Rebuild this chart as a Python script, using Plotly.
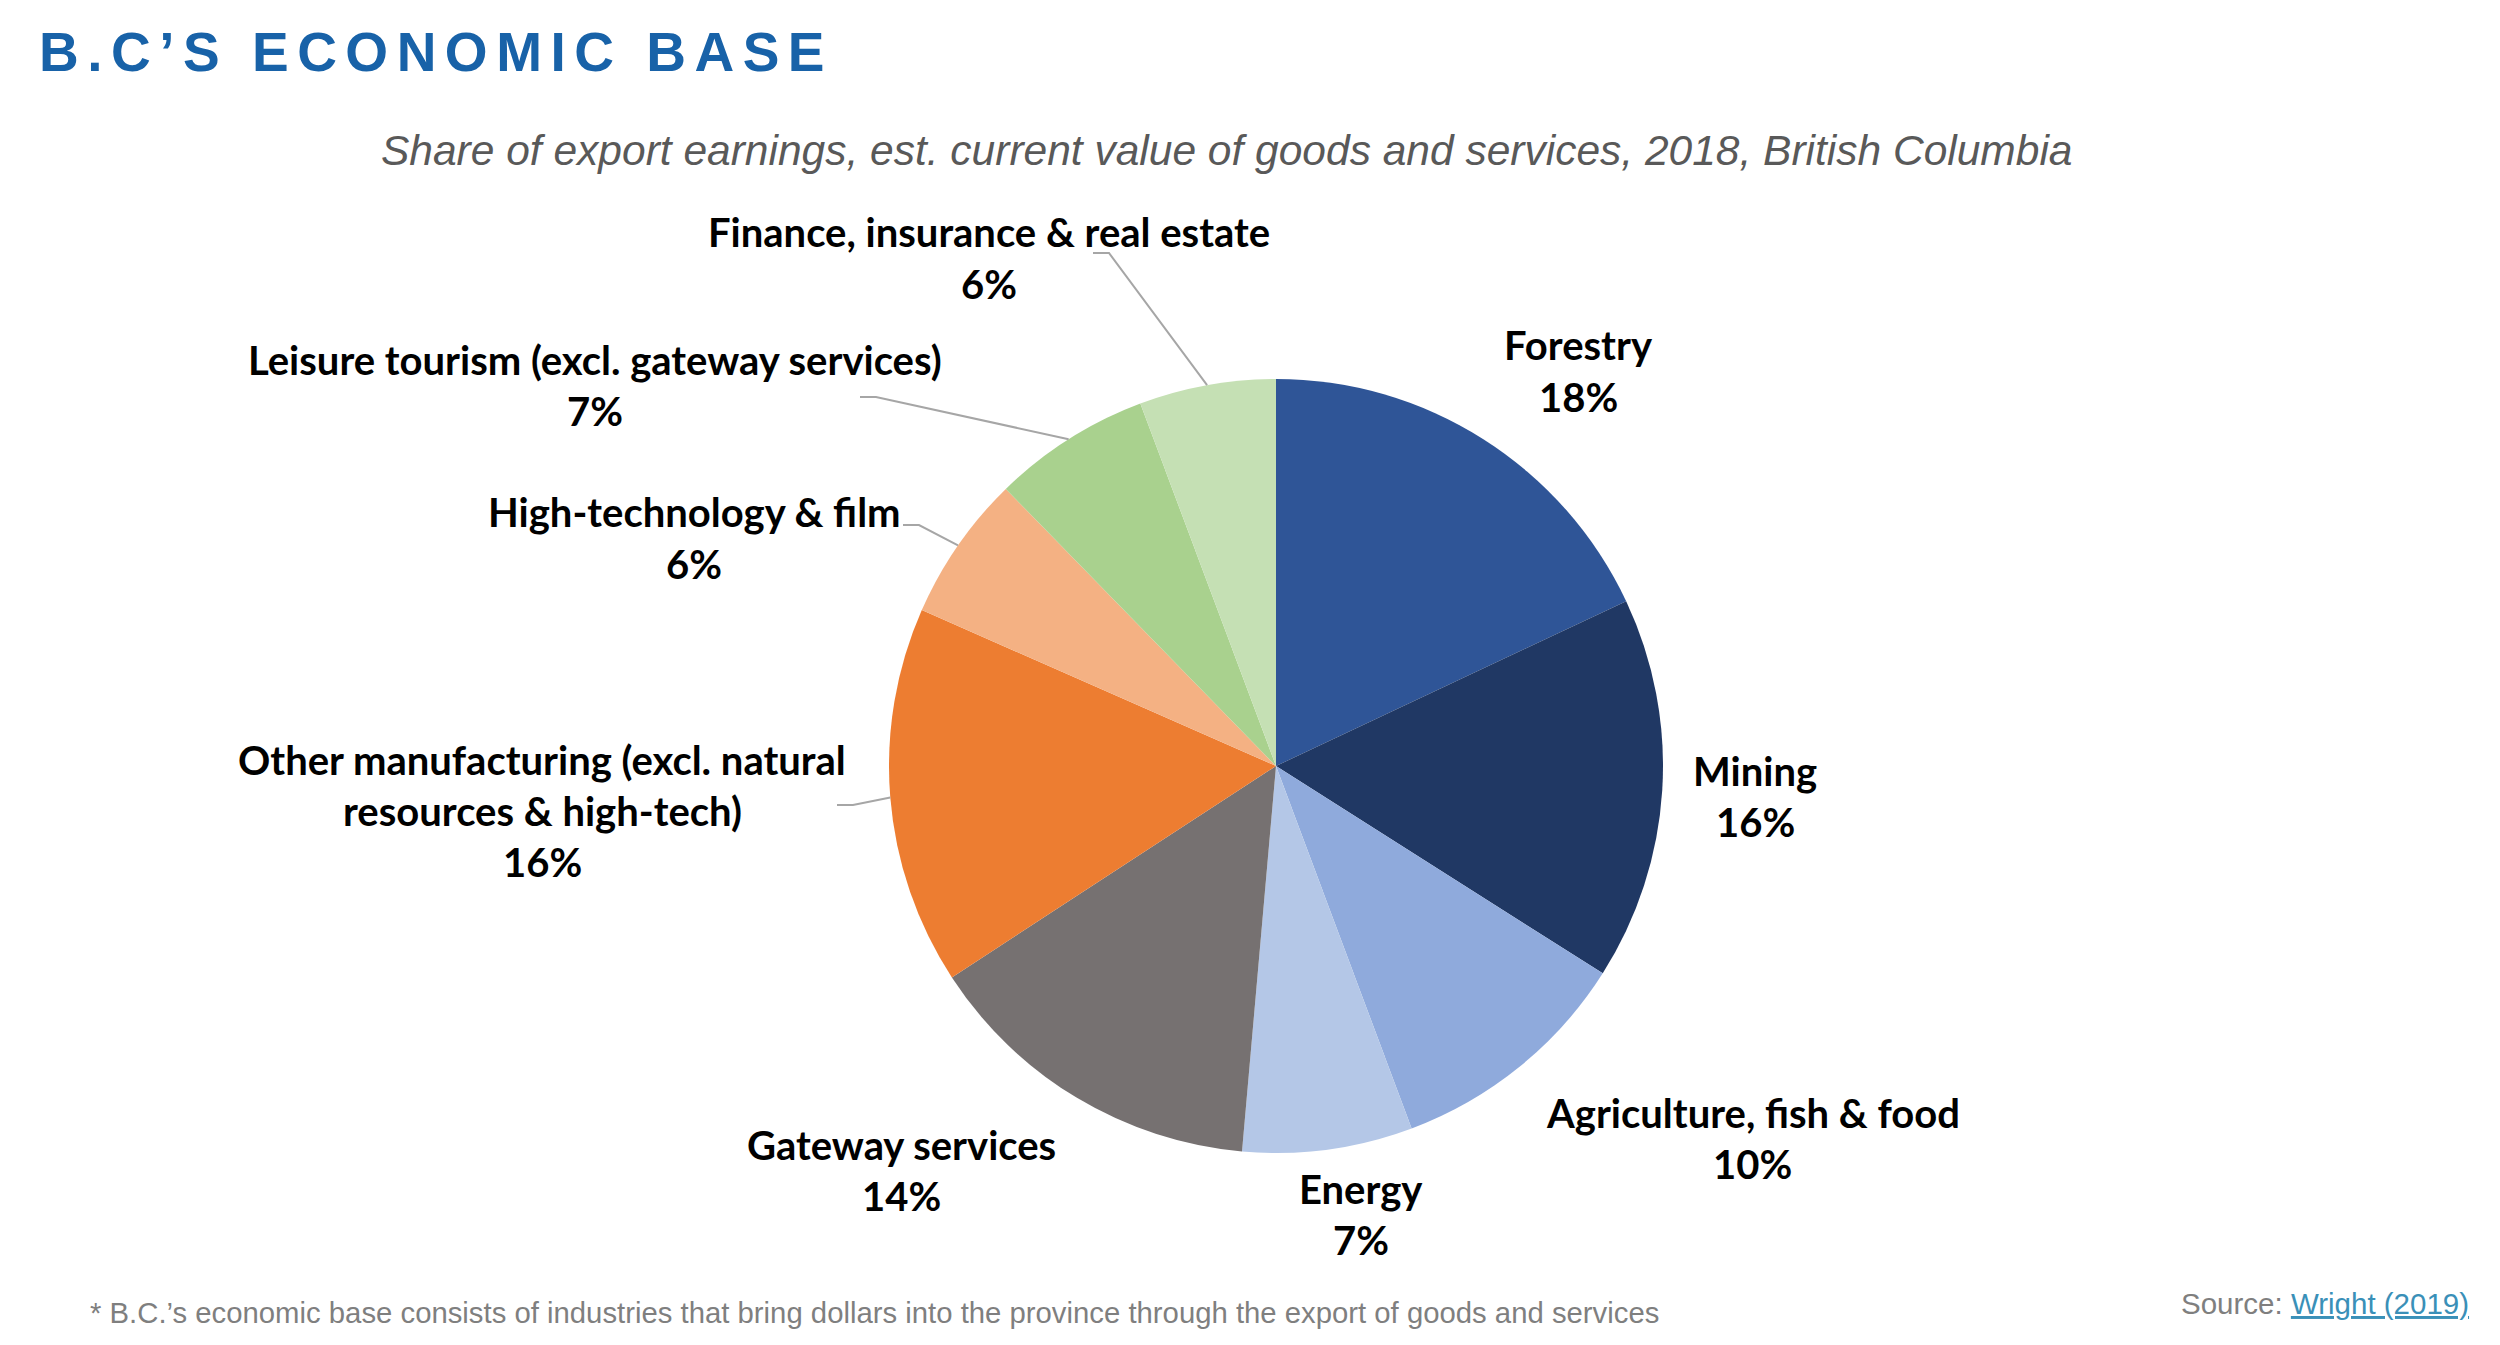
import math
import plotly.graph_objects as go

W, H = 2500, 1345
OFF = 8  # page body margin

# data (clockwise from 12 o'clock), share of export earnings in %
categories = [
    "Forestry",
    "Mining",
    "Agriculture, fish & food",
    "Energy",
    "Gateway services",
    "Other manufacturing (excl. natural<br>resources & high-tech)",
    "High-technology & film",
    "Leisure tourism (excl. gateway services)",
    "Finance, insurance & real estate",
]
shares = [18.0, 16.0, 10.3, 7.1, 14.4, 15.8, 6.1, 6.6, 5.7]

colors = ["#2F5597", "#203864", "#8FAADC", "#B4C7E7", "#767171",
          "#ED7D31", "#F4B183", "#A9D18E", "#C5E0B4"]

# label block centres in pixels (from top-left)
label_pos = [(1578, 371), (1755, 796), (1753, 1138), (1361, 1214), (901, 1170),
             (542, 811), (694, 538), (595, 385), (989, 258)]
# knee of leader line (pixels), None = no leader
leader_knee = [None, None, None, None, None,
               (837, 805), (903, 525), (860, 397), (1093, 253)]

cx, cy, R = 1276, 766, 387


def px(x, y):
    return (x - OFF) / W, 1 - (y - OFF) / H


fig = go.Figure(go.Pie(
    labels=categories,
    values=shares,
    sort=False,
    direction="clockwise",
    rotation=0,
    marker=dict(colors=colors, line=dict(width=0)),
    textinfo="none",
    hoverinfo="label+percent",
    showlegend=False,
    domain=dict(x=[px(cx - R, 0)[0], px(cx + R, 0)[0]],
                y=[px(0, cy + R)[1], px(0, cy - R)[1]]),
))

annotations = []
shapes = []
total = sum(shares)
cum = 0
for name, v, (lx, ly), knee in zip(categories, shares, label_pos, leader_knee):
    mid = (cum + v / 2) / total * 2 * math.pi
    cum += v
    pct = int(v / total * 100 + 0.5)
    lines = name.split("<br>") + [f"{pct}%"]
    n = len(lines)
    for i, t in enumerate(lines):
        x, y = px(lx, ly + (i - (n - 1) / 2) * 51)
        annotations.append(dict(
            x=x, y=y, xref="paper", yref="paper", text=f"<b>{t}</b>",
            showarrow=False, xanchor="center", yanchor="middle",
            font=dict(family="Lato", size=40, color="#000000"),
        ))
    if knee:
        ex, ey = cx + R * math.sin(mid), cy - R * math.cos(mid)
        k1 = px(knee[0], knee[1])
        k2 = px(knee[0] + 16, knee[1])
        e = px(ex, ey)
        shapes.append(dict(
            type="path", xref="paper", yref="paper",
            path=f"M {k1[0]},{k1[1]} L {k2[0]},{k2[1]} L {e[0]},{e[1]}",
            line=dict(color="#A6A6A6", width=2),
        ))

# title, subtitle, footer, source
tx, ty = px(37, 52)
annotations.append(dict(
    x=tx, y=ty, xref="paper", yref="paper",
    text='<b><span style="letter-spacing:8.5px">B.C’S ECONOMIC BASE</span></b>',
    showarrow=False, xanchor="left", yanchor="middle",
    font=dict(family="Liberation Sans", size=55, color="#1862A8"),
))
sx, sy = px(1226, 151)
annotations.append(dict(
    x=sx, y=sy, xref="paper", yref="paper",
    text="<i>Share of export earnings, est. current value of goods and services, 2018, British Columbia</i>",
    showarrow=False, xanchor="center", yanchor="middle",
    font=dict(family="Liberation Sans", size=42.5, color="#595959"),
))
fx, fy = px(88, 1312)
annotations.append(dict(
    x=fx, y=fy, xref="paper", yref="paper",
    text="* B.C.’s economic base consists of industries that bring dollars into the province through the export of goods and services",
    showarrow=False, xanchor="left", yanchor="middle",
    font=dict(family="Liberation Sans", size=29.3, color="#7F7F7F"),
))
rx, ry = px(2471, 1303)
annotations.append(dict(
    x=rx, y=ry, xref="paper", yref="paper",
    text='Source: <span style="color:#3A90B8"><u>Wright (2019)</u></span>',
    showarrow=False, xanchor="right", yanchor="middle",
    font=dict(family="Liberation Sans", size=29.5, color="#7F7F7F"),
))

fig.update_layout(
    width=W, height=H,
    margin=dict(l=0, r=0, t=0, b=0),
    paper_bgcolor="white",
    plot_bgcolor="white",
    annotations=annotations,
    shapes=shapes,
)

fig.write_html("out.html")
